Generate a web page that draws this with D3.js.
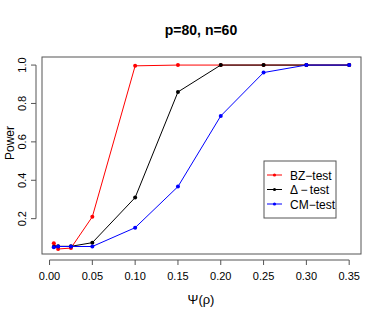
<!DOCTYPE html>
<html>
<head>
<meta charset="utf-8">
<script src="https://cdn.jsdelivr.net/npm/d3@7"></script>
<style>
  body { margin: 0; background: #fff; }
  text { font-family: "Liberation Sans", Arial, sans-serif; }
</style>
</head>
<body>
<svg width="382" height="327"></svg>
<script>
var psi = [0.005, 0.01, 0.025, 0.05, 0.10, 0.15, 0.20, 0.25, 0.30, 0.35];
var bz = [0.072, 0.042, 0.047, 0.21, 0.996, 1.0, 1.0, 1.0, 1.0, 1.0];
var delta = [0.054, 0.056, 0.056, 0.075, 0.31, 0.86, 1.0, 1.0, 1.0, 1.0];
var cm = [0.051, 0.055, 0.055, 0.055, 0.153, 0.367, 0.735, 0.961, 1.0, 1.0];
var xTicks = [0, 0.05, 0.10, 0.15, 0.20, 0.25, 0.30, 0.35];
var yTicks = [0.2, 0.4, 0.6, 0.8, 1.0];
var seriesNames = ["BZ\u2212test", "\u0394\u2009\u2212\u2009test", "CM\u2212test"];
var seriesColors = ["#ff0000", "#000000", "#0000ff"];

var svg = d3.select("svg");
var pLeft = 42, pRight = 361, pTop = 57, pBottom = 254;

var x = d3.scaleLinear().domain([-0.0088, 0.3638]).range([pLeft, pRight]);
var y = d3.scaleLinear().domain([0.016, 1.042]).range([pBottom, pTop]);

// box
svg.append("rect").attr("x", pLeft).attr("y", pTop)
  .attr("width", pRight - pLeft).attr("height", pBottom - pTop)
  .attr("fill", "none").attr("stroke", "#555").attr("stroke-width", 1);

// x axis
var xa = svg.append("g").attr("transform", "translate(0," + (pBottom + 6) + ")");
xa.append("line").attr("x1", x(0)).attr("x2", x(0.35)).attr("stroke", "#555");
xa.selectAll("line.t").data(xTicks).enter().append("line").attr("class", "t")
  .attr("x1", x).attr("x2", x).attr("y1", 0).attr("y2", 5).attr("stroke", "#555");
xa.selectAll("text").data(xTicks).enter().append("text")
  .attr("x", x).attr("y", 20).attr("text-anchor", "middle")
  .attr("font-size", 11).text(d3.format(".2f"));

// y axis
var ya = svg.append("g").attr("transform", "translate(" + (pLeft - 6) + ",0)");
ya.append("line").attr("y1", y(0.2)).attr("y2", y(1.0)).attr("stroke", "#555");
ya.selectAll("line.t").data(yTicks).enter().append("line").attr("class", "t")
  .attr("y1", y).attr("y2", y).attr("x1", 0).attr("x2", -5).attr("stroke", "#555");
ya.selectAll("text").data(yTicks).enter().append("text")
  .attr("transform", function(d) { return "translate(-10," + y(d) + ") rotate(-90)"; })
  .attr("text-anchor", "middle").attr("font-size", 11).text(d3.format(".1f"));

// titles
svg.append("text").attr("x", 201).attr("y", 35).attr("text-anchor", "middle")
  .attr("font-size", 14).attr("font-weight", "bold").text("p=80, n=60");
svg.append("text").attr("transform", "translate(14,143) rotate(-90)")
  .attr("text-anchor", "middle").attr("font-size", 12).text("Power");
svg.append("text").attr("x", 201).attr("y", 304).attr("text-anchor", "middle")
  .attr("font-size", 13).attr("font-family", "DejaVu Serif").text("\u03a8(\u03c1)");

// series
var all = [bz, delta, cm];
var line = d3.line().x(function(d, i) { return x(psi[i]); }).y(function(d) { return y(d); });
all.forEach(function(vals, k) {
  svg.append("path").attr("d", line(vals)).attr("fill", "none")
    .attr("stroke", seriesColors[k]).attr("stroke-width", 1);
  svg.selectAll("circle.s" + k).data(vals).enter().append("circle").attr("class", "s" + k)
    .attr("cx", function(d, i) { return x(psi[i]); }).attr("cy", y).attr("r", 2)
    .attr("fill", seriesColors[k]);
});

// legend
var lg = svg.append("g");
lg.append("rect").attr("x", 264).attr("y", 161).attr("width", 72).attr("height", 57)
  .attr("fill", "#fff").attr("stroke", "#555");
seriesNames.forEach(function(n, k) {
  var yy = 175 + k * 14.5;
  lg.append("line").attr("x1", 267).attr("x2", 282).attr("y1", yy).attr("y2", yy)
    .attr("stroke", seriesColors[k]);
  lg.append("circle").attr("cx", 274.5).attr("cy", yy).attr("r", 1.6).attr("fill", seriesColors[k]);
  lg.append("text").attr("x", 290).attr("y", yy + 4.5).attr("font-size", 12).text(n);
});
</script>
</body>
</html>
